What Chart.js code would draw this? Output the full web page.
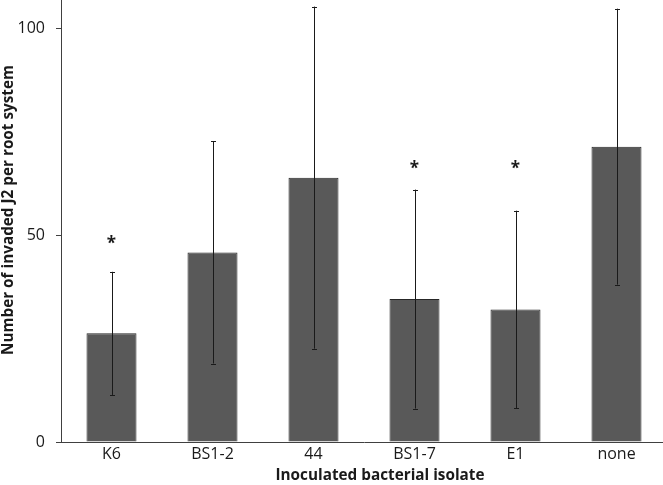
<!DOCTYPE html>
<html>
<head>
<meta charset="utf-8">
<script src="https://cdn.jsdelivr.net/npm/chart.js@4.4.0/dist/chart.umd.min.js"></script>
<style>
  html, body { margin: 0; padding: 0; background: #fff; overflow: hidden; }
  #wrap { width: 667px; height: 485px; }
</style>
</head>
<body>
<div id="wrap"><canvas id="myChart" width="667" height="485"></canvas></div>
<script>
// data
const isolates = ['K6', 'BS1-2', '44', 'BS1-7', 'E1', 'none'];
const meanJ2 = [26.3, 45.9, 64.0, 34.6, 32.1, 71.5];
const sdJ2 = [14.9, 26.9, 41.4, 26.5, 23.9, 33.4];
const starAt = [48.5, null, null, 66.7, 66.7, null]; // significance marks
const yTicks = [0, 50, 100];

const FONT = '"Open Sans", Lato, sans-serif';

// error bars + asterisks + axis titles
const extras = {
  id: 'extras',
  afterDatasetsDraw(chart) {
    const ctx = chart.ctx;
    const y = chart.scales.y;
    const meta = chart.getDatasetMeta(0);
    ctx.save();
    ctx.strokeStyle = '#1a1a1a';
    ctx.lineWidth = 1;
    meta.data.forEach((bar, i) => {
      const x = Math.round(bar.x) + 0.5;
      const top = y.getPixelForValue(meanJ2[i] + sdJ2[i]);
      const bot = y.getPixelForValue(Math.max(meanJ2[i] - sdJ2[i], 0));
      ctx.beginPath();
      ctx.moveTo(x, top);
      ctx.lineTo(x, bot);
      ctx.moveTo(x - 2.5, Math.round(top) + 0.5);
      ctx.lineTo(x + 2.5, Math.round(top) + 0.5);
      ctx.moveTo(x - 2.5, Math.round(bot) + 0.5);
      ctx.lineTo(x + 2.5, Math.round(bot) + 0.5);
      ctx.stroke();
      if (starAt[i] != null) {
        ctx.fillStyle = '#1a1a1a';
        ctx.font = 'bold 17px ' + FONT;
        ctx.textAlign = 'center';
        ctx.textBaseline = 'middle';
        ctx.fillText('*', bar.x, y.getPixelForValue(starAt[i]) + 3);
      }
    });

    ctx.fillStyle = '#1a1a1a';
    ctx.font = 'bold 15.3px ' + FONT;
    ctx.textAlign = 'center';
    ctx.textBaseline = 'middle';
    ctx.fillText('Inoculated bacterial isolate', 380, 476);
    ctx.translate(9, 210);
    ctx.rotate(-Math.PI / 2);
    ctx.fillText('Number of invaded J2 per root system', 0, 0);
    ctx.restore();
  }
};

const ctx = document.getElementById('myChart').getContext('2d');
const chart = new Chart(ctx, {
  type: 'bar',
  data: {
    labels: isolates,
    datasets: [{
      data: meanJ2,
      backgroundColor: '#595959',
      borderColor: '#262626',
      borderWidth: 1,
      barPercentage: 0.495,
      categoryPercentage: 1
    }]
  },
  options: {
    responsive: false,
    animation: false,
    layout: { padding: 0 },
    plugins: { legend: { display: false }, tooltip: { enabled: false } },
    scales: {
      x: {
        grid: { display: false, drawTicks: false },
        border: { color: '#404040', width: 1 },
        ticks: { color: '#1a1a1a', font: { family: FONT, size: 16 }, padding: 3 },
        afterFit: (s) => { s.height = 43; s.paddingLeft = 0; s.paddingRight = 0; }
      },
      y: {
        min: 0,
        max: 107,
        afterBuildTicks: (s) => { s.ticks = yTicks.map(v => ({ value: v })); },
        grid: { drawOnChartArea: false, drawTicks: true, tickLength: 5, color: '#404040' },
        border: { color: '#404040', width: 1 },
        ticks: { color: '#1a1a1a', font: { family: FONT, size: 16 }, padding: 11 },
        afterFit: (s) => { s.width = 61; s.paddingTop = 0; s.paddingBottom = 0; }
      }
    }
  },
  plugins: [extras]
});
</script>
</body>
</html>
